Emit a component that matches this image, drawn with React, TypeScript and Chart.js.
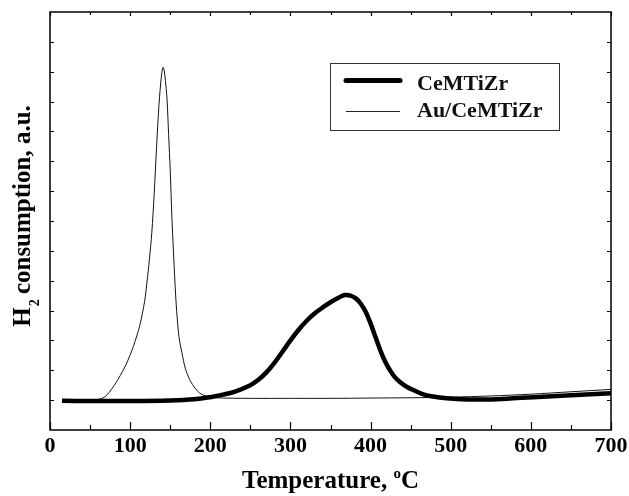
import React, { useEffect, useRef } from "react";
import { Chart, registerables } from "chart.js";

Chart.register(...registerables);

// ---- data ----
const auTemps: number[] = [15, 30, 45, 60, 68, 75, 85, 95, 104, 112, 118, 121, 124, 127, 130, 133, 136, 139, 141, 142.5, 144, 146, 148, 150, 152, 154, 156, 158, 161, 164.5, 169, 175, 181, 187, 195, 205, 250, 300, 350, 400, 450, 500, 550, 600, 650, 700];
const auValues: number[] = [1.0, 1.0, 1.0, 1.02, 1.1, 1.3, 1.7, 2.2, 2.8, 3.5, 4.3, 4.95, 5.7, 6.6, 7.9, 9.5, 10.9, 11.85, 12.15, 12.05, 11.7, 11.1, 9.9, 8.7, 7.2, 6.0, 4.9, 4.0, 3.1, 2.6, 2.05, 1.65, 1.4, 1.23, 1.13, 1.08, 1.06, 1.06, 1.06, 1.07, 1.08, 1.1, 1.14, 1.2, 1.28, 1.36];

const ceTemps: number[] = [15, 50, 100, 150, 180, 200, 215, 230, 250, 260, 270, 280, 290, 300, 310, 320, 330, 340, 350, 360, 368, 375, 382, 388, 394, 400, 406, 412, 418, 424, 430, 437, 445, 454, 465, 478, 495, 512, 540, 570, 603, 650, 700];
const ceValues: number[] = [0.98, 0.97, 0.97, 0.99, 1.03, 1.1, 1.18, 1.28, 1.5, 1.68, 1.93, 2.25, 2.62, 3.0, 3.35, 3.65, 3.9, 4.1, 4.28, 4.43, 4.52, 4.5, 4.4, 4.22, 3.95, 3.57, 3.12, 2.68, 2.3, 2.01, 1.78, 1.6, 1.45, 1.33, 1.2, 1.12, 1.06, 1.03, 1.02, 1.05, 1.1, 1.16, 1.23];

const seriesNames: string[] = ["CeMTiZr", "Au/CeMTiZr"];
const xMajorTicks: number[] = [0, 100, 200, 300, 400, 500, 600, 700];
const xMinorTicks: number[] = [50, 150, 250, 350, 450, 550, 650];
const yTicks: number[] = [1, 2, 3, 4, 5, 6, 7, 8, 9, 10, 11, 12, 13];
const xTitleMain = "Temperature, ";
const xTitleSup = "o";
const xTitleEnd = "C";
const yTitleMain = "H";
const yTitleSub = "2";
const yTitleEnd = " consumption, a.u.";

const SERIF = '"Liberation Serif", "Times New Roman", serif';

const decorPlugin = {
  id: "decor",
  afterDraw(chart: any) {
    const ctx = chart.ctx as CanvasRenderingContext2D;
    const area = chart.chartArea;
    const xs = chart.scales.x;
    const ys = chart.scales.y;
    ctx.save();
    ctx.strokeStyle = "#000";
    ctx.fillStyle = "#000";
    // border
    ctx.lineWidth = 1.5;
    ctx.strokeRect(area.left, area.top, area.right - area.left, area.bottom - area.top);
    // ticks
    ctx.lineWidth = 1.2;
    ctx.beginPath();
    for (const v of xMajorTicks) {
      const px = Math.round(xs.getPixelForValue(v)) + 0.5;
      ctx.moveTo(px, area.bottom);
      ctx.lineTo(px, area.bottom - 8);
      ctx.moveTo(px, area.top);
      ctx.lineTo(px, area.top + 4);
    }
    for (const v of xMinorTicks) {
      const px = Math.round(xs.getPixelForValue(v)) + 0.5;
      ctx.moveTo(px, area.bottom);
      ctx.lineTo(px, area.bottom - 5);
      ctx.moveTo(px, area.top);
      ctx.lineTo(px, area.top + 3);
    }
    for (const v of yTicks) {
      const py = Math.round(ys.getPixelForValue(v)) + 0.5;
      ctx.moveTo(area.left, py);
      ctx.lineTo(area.left + 4, py);
      ctx.moveTo(area.right, py);
      ctx.lineTo(area.right - 4, py);
    }
    ctx.stroke();
    // tick labels
    ctx.font = `bold 22px ${SERIF}`;
    ctx.textAlign = "center";
    ctx.textBaseline = "alphabetic";
    for (const v of xMajorTicks) {
      ctx.fillText(String(v), xs.getPixelForValue(v), area.bottom + 22);
    }
    // x title
    const mainFont = `bold 25px ${SERIF}`;
    const supFont = `bold 15px ${SERIF}`;
    const subFont = `bold 14px ${SERIF}`;
    ctx.textAlign = "left";
    ctx.font = mainFont;
    const w1 = ctx.measureText(xTitleMain).width;
    const w3 = ctx.measureText(xTitleEnd).width;
    ctx.font = supFont;
    const w2 = ctx.measureText(xTitleSup).width;
    const total = w1 + w2 + w3;
    const cx = (area.left + area.right) / 2;
    const x0 = cx - total / 2;
    const by = 488;
    ctx.font = mainFont;
    ctx.fillText(xTitleMain, x0, by);
    ctx.font = supFont;
    ctx.fillText(xTitleSup, x0 + w1, by - 10);
    ctx.font = mainFont;
    ctx.fillText(xTitleEnd, x0 + w1 + w2, by);
    // y title
    ctx.save();
    ctx.translate(30, 216);
    ctx.rotate(-Math.PI / 2);
    ctx.font = mainFont;
    const h1 = ctx.measureText(yTitleMain).width;
    const h3 = ctx.measureText(yTitleEnd).width;
    ctx.font = subFont;
    const h2 = ctx.measureText(yTitleSub).width;
    const ytot = h1 + h2 + h3;
    const y0 = -ytot / 2;
    ctx.font = mainFont;
    ctx.fillText(yTitleMain, y0, 0);
    ctx.font = subFont;
    ctx.fillText(yTitleSub, y0 + h1 + 1, 9);
    ctx.font = mainFont;
    ctx.fillText(yTitleEnd, y0 + h1 + h2, 0);
    ctx.restore();
    // legend
    ctx.strokeStyle = "#333";
    ctx.lineWidth = 1;
    ctx.strokeRect(330.5, 63.5, 229, 67);
    ctx.strokeStyle = "#000";
    ctx.lineCap = "round";
    ctx.lineWidth = 5;
    ctx.beginPath();
    ctx.moveTo(346, 80.5);
    ctx.lineTo(400, 80.5);
    ctx.stroke();
    ctx.lineCap = "butt";
    ctx.strokeStyle = "#222";
    ctx.lineWidth = 1;
    ctx.beginPath();
    ctx.moveTo(346, 111.5);
    ctx.lineTo(400, 111.5);
    ctx.stroke();
    ctx.fillStyle = "#111";
    ctx.font = `bold 22px ${SERIF}`;
    ctx.fillText(seriesNames[0], 417, 90);
    ctx.fillText(seriesNames[1], 417, 117);
    ctx.restore();
  },
};

export default function App() {
  const ref = useRef<HTMLCanvasElement | null>(null);
  useEffect(() => {
    if (!ref.current) return;
    const ceData = ceTemps.map((t, i) => ({ x: t, y: ceValues[i] }));
    const auData = auTemps.map((t, i) => ({ x: t, y: auValues[i] }));
    const chart = new Chart(ref.current, {
      type: "line",
      data: {
        datasets: [
          {
            label: seriesNames[0],
            data: ceData,
            borderColor: "#000",
            borderWidth: 4.5,
            pointRadius: 0,
            tension: 0.4,
            fill: false,
          },
          {
            label: seriesNames[1],
            data: auData,
            borderColor: "#111",
            borderWidth: 1,
            pointRadius: 0,
            tension: 0.3,
            fill: false,
          },
        ],
      },
      options: {
        animation: false,
        responsive: false,
        maintainAspectRatio: false,
        layout: { padding: { left: 50, top: 12, right: 18, bottom: 66 } },
        plugins: { legend: { display: false }, tooltip: { enabled: false } },
        scales: {
          x: { type: "linear", min: 0, max: 700, display: false },
          y: { type: "linear", min: 0, max: 14, display: false },
        },
      },
      plugins: [decorPlugin],
    });
    return () => chart.destroy();
  }, []);
  return (
    <div style={{ position: "absolute", left: 0, top: 0, width: 629, height: 496, background: "#fff" }}>
      <canvas ref={ref} width={629} height={496} style={{ width: 629, height: 496 }} />
    </div>
  );
}
